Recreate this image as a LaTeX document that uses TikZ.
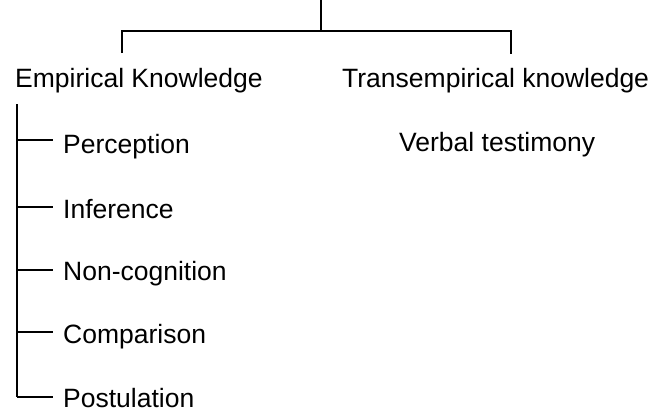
\documentclass[tikz,border=0pt]{standalone}
\usepackage{fontspec}
\setmainfont{Liberation Sans}
\usetikzlibrary{calc}
\begin{document}
\begin{tikzpicture}[x=1pt,y=-1pt,
  lbl/.style={anchor=base west,inner sep=0pt,font=\fontsize{26.5}{31}\selectfont},
  conn/.style={line width=2.2pt,line cap=butt}]
\useasboundingbox (0,0) rectangle (660,412);
% text nodes
\node[lbl] (emp) at (15,87) {Empirical Knowledge};
\node[lbl] (trans) at (342,87) {Transempirical knowledge};
\node[lbl] (verbal) at (399,151) {Verbal testimony};
\node[lbl] (perc) at (63,153) {Perception};
\node[lbl] (infe) at (63,218) {Inference};
\node[lbl] (nonc) at (63,280) {Non-cognition};
\node[lbl] (comp) at (63,343) {Comparison};
\node[lbl] (post) at (63,407) {Postulation};
% tree junctions
\coordinate (top) at (321,0);
\coordinate (mid) at (321,31);
\coordinate (lj) at (122,31);
\coordinate (rj) at (511,31);
\coordinate (ld) at (122,53);
\coordinate (rd) at (511,54);
\coordinate (vtop) at (17,104);
\coordinate (vbot) at (17,397);
\draw[conn] (top) -- (mid);
\draw[conn] (ld) -- (lj) -- (rj) -- (rd);
\draw[conn] (vtop) -- (vbot);
\foreach \n/\y in {perc/140,infe/207,nonc/270,comp/332,post/397}
  \draw[conn] (17,\y) -- ($(\n.west |- 0,\y)+(-10,0)$);
\end{tikzpicture}
\end{document}
